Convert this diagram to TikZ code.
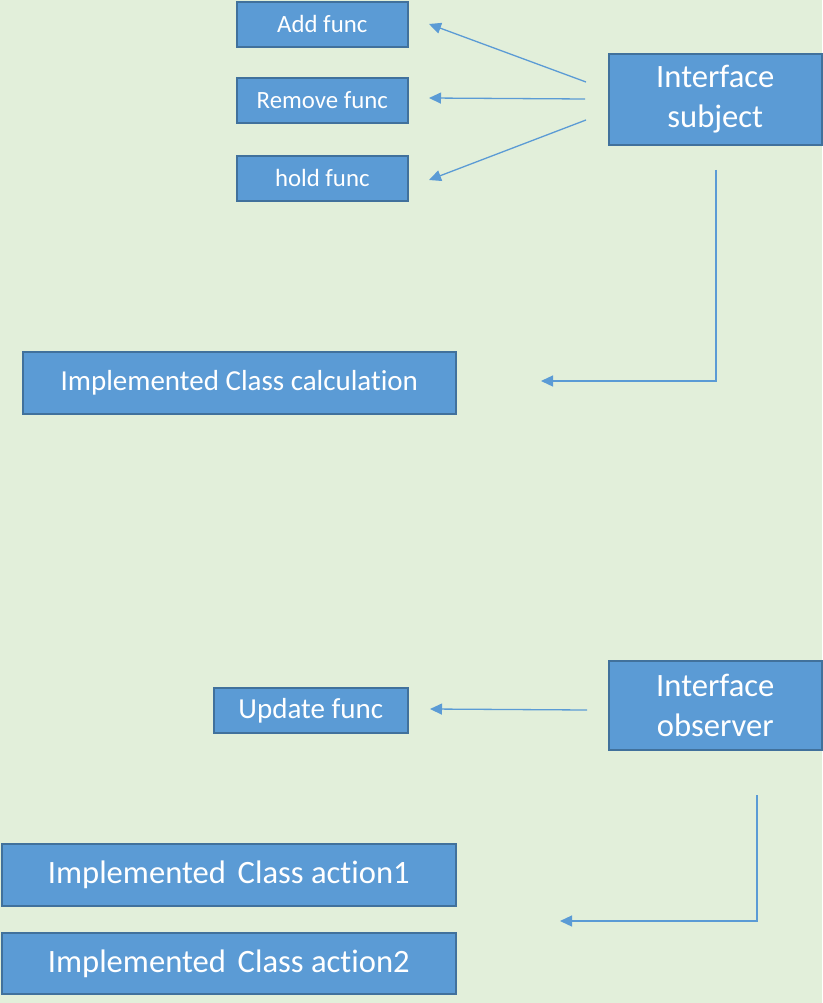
\documentclass[tikz,border=0pt]{standalone}
\usepackage{fontspec}
\setmainfont{Carlito}[Ligatures={NoCommon}]
\usetikzlibrary{arrows.meta}
\definecolor{bg}{HTML}{E2EFDA}
\definecolor{boxfill}{HTML}{5B9BD5}
\definecolor{boxline}{HTML}{41719C}
\definecolor{arr}{HTML}{5B9BD5}
\tikzset{
  blk/.style={draw=boxline, line width=1.6pt, fill=boxfill, text=white, inner sep=0pt, anchor=north west, align=center},
  conn/.style={draw=arr, line width=1.3pt, -{Triangle[length=12pt,width=11pt]}},
  small/.style={font=\fontsize{24.8}{29}\selectfont},
  big/.style={font=\fontsize{32.6}{40.5}\selectfont},
  mid/.style={font=\fontsize{29}{34}\selectfont},
}
\begin{document}
\begin{tikzpicture}[x=1pt,y=-1pt]
\fill[bg] (0,0) rectangle (822,1003);
\useasboundingbox (0,0) rectangle (822,1003);
% boxes
\node[blk, small, minimum width=171pt, minimum height=45pt] (add) at (236,1) {Add func};
\node[blk, small, minimum width=171pt, minimum height=45pt] (rem) at (236,77) {Remove func};
\node[blk, small, minimum width=171pt, minimum height=45pt] (hold) at (236,155) {hold func};
\node[blk, big, minimum width=213pt, minimum height=91pt] (subj) at (608,53) {Interface\\subject};
\node[blk, mid, minimum width=433pt, minimum height=62pt] (calc) at (22,351) {Implemented Class calculation};
\node[blk, mid, minimum width=194pt, minimum height=45pt] (upd) at (213,687) {Update func};
\node[blk, big, minimum width=213pt, minimum height=89pt] (obs) at (608,660) {Interface\\observer};
\node[blk, big, minimum width=454pt, minimum height=62pt] (act1) at (1,843) {Implemented\hspace{0.36em}Class action1};
\node[blk, big, minimum width=454pt, minimum height=61pt] (act2) at (1,932) {Implemented\hspace{0.36em}Class action2};
% connector end points
\coordinate (s1) at (586,82);  \coordinate (t1) at (429,24);
\coordinate (s2) at (585,99);  \coordinate (t2) at (429,98);
\coordinate (s3) at (586,120); \coordinate (t3) at (429,180);
\coordinate (s4) at (716,170); \coordinate (c4) at (716,381); \coordinate (t4) at (541,381);
\coordinate (s5) at (587,710); \coordinate (t5) at (430,709);
\coordinate (s6) at (757,795); \coordinate (c6) at (757,921); \coordinate (t6) at (560,921);
\draw[conn] (s1) -- (t1);
\draw[conn] (s2) -- (t2);
\draw[conn] (s3) -- (t3);
\draw[conn] (s4) -- (c4) -- (t4);
\draw[conn] (s5) -- (t5);
\draw[conn] (s6) -- (c6) -- (t6);
\end{tikzpicture}
\end{document}
